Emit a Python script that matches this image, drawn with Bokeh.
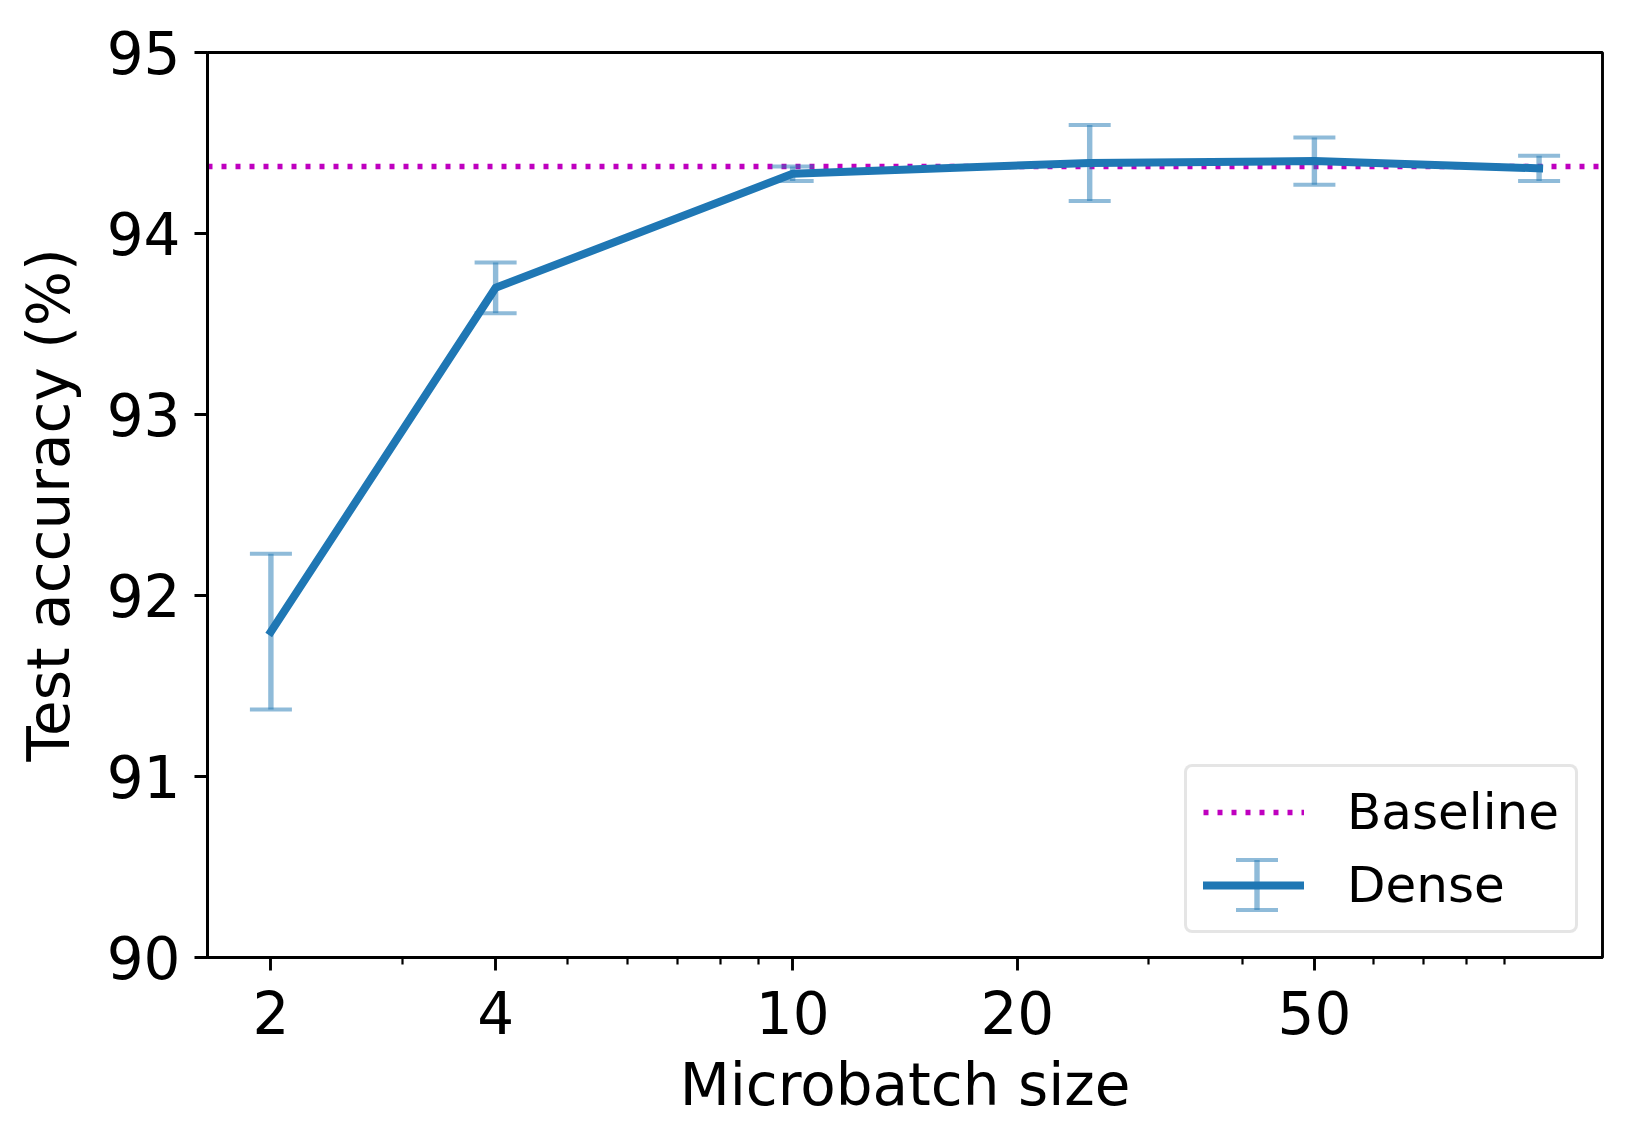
import math
from bokeh.plotting import figure
from bokeh.models import (Range1d, FixedTicker, Whisker, TeeHead, Legend,
                          LegendItem, ColumnDataSource)
from bokeh.embed import file_html
from bokeh.resources import INLINE

# ---- data ----
microbatch = [2, 4, 10, 25, 50, 100]
accuracy = [91.80, 93.70, 94.33, 94.39, 94.40, 94.36]
errors = [0.43, 0.14, 0.04, 0.21, 0.13, 0.07]
baseline = [94.37]

x_ticks = [2, 4, 10, 20, 50]
x_tick_labels = ["2", "4", "10", "20", "50"]
x_minor_ticks = [3, 5, 6, 7, 8, 9, 30, 40, 60, 70, 80, 90]
y_ticks = [90, 91, 92, 93, 94, 95]
y_tick_labels = ["90", "91", "92", "93", "94", "95"]

BLUE = "#1f77b4"
MAGENTA = "#bf00bf"
FONT = "DejaVu Sans"

# matplotlib-like 5% margins on log x axis
lo = math.log10(min(microbatch))
hi = math.log10(max(microbatch))
m = 0.05 * (hi - lo)
x_range = Range1d(10 ** (lo - m), 10 ** (hi + m))

src = ColumnDataSource(dict(
    x=microbatch,
    y=accuracy,
    upper=[a + e for a, e in zip(accuracy, errors)],
    lower=[a - e for a, e in zip(accuracy, errors)],
    zero=[0] * len(microbatch),
))

p = figure(width=1619, height=1132, x_axis_type="log",
           x_range=x_range, y_range=Range1d(90, 95),
           output_backend="svg", toolbar_location=None,
           min_border_left=207, min_border_right=17,
           min_border_top=52, min_border_bottom=175)
p.grid.visible = False
p.background_fill_color = "white"
p.border_fill_color = "white"
p.outline_line_color = "black"
p.outline_line_width = 2.9
p.outline_line_alpha = 1.0

# axes styling
for ax in (p.xaxis[0], p.yaxis[0]):
    ax.axis_line_color = "black"
    ax.axis_line_width = 2.9
    ax.major_tick_line_color = "black"
    ax.major_tick_line_width = 2.9
    ax.major_tick_out = 13
    ax.major_tick_in = 0
    ax.minor_tick_line_color = "black"
    ax.minor_tick_line_width = 2.2
    ax.minor_tick_out = 7
    ax.minor_tick_in = 0
    ax.major_label_text_font = FONT
    ax.major_label_text_font_size = "58px"
    ax.major_label_text_color = "black"
    ax.axis_label_text_font = FONT
    ax.axis_label_text_font_size = "58px"
    ax.axis_label_text_font_style = "normal"
    ax.axis_label_text_color = "black"

p.xaxis.ticker = FixedTicker(ticks=x_ticks, minor_ticks=x_minor_ticks)
p.xaxis.major_label_overrides = {t: l for t, l in zip(x_ticks, x_tick_labels)}
p.xaxis.major_label_standoff = 20
p.xaxis.axis_label = "Microbatch size"
p.xaxis.axis_label_standoff = 14

p.yaxis.ticker = FixedTicker(ticks=y_ticks, minor_ticks=[])
p.yaxis.major_label_overrides = {t: l for t, l in zip(y_ticks, y_tick_labels)}
p.yaxis.major_label_standoff = 14
p.yaxis.axis_label = "Test accuracy (%)"
p.yaxis.axis_label_standoff = 21

# error bars
whisk = Whisker(source=src, base="x", upper="upper", lower="lower",
                dimension="height", line_color=BLUE, line_alpha=0.5,
                line_width=5.4, level="underlay",
                upper_head=TeeHead(size=42, line_color=BLUE, line_alpha=0.5, line_width=4),
                lower_head=TeeHead(size=42, line_color=BLUE, line_alpha=0.5, line_width=4))
p.add_layout(whisk)

# baseline (horizontal span glyph)
base_r = p.hspan(y=baseline, line_color=MAGENTA, line_width=5.4, line_dash="5 9")
base_r.level = "underlay"

# zero-size proxies: invisible in the plot, used only for the legend's error-bar icon
bar_proxy = p.scatter("x", "y", source=src, size="zero", marker="cross",
                      line_color=BLUE, line_alpha=0.5, line_width=5.4, fill_alpha=0)
cap_proxy = p.scatter("x", "y", source=src, size="zero", marker="dash",
                      line_color=BLUE, line_alpha=0.5, line_width=4, fill_alpha=0)

# main line
line_r = p.line("x", "y", source=src, line_color=BLUE, line_width=8,
                line_join="round", line_cap="square")

legend = Legend(items=[
    LegendItem(label="Baseline", renderers=[base_r]),
    LegendItem(label="Dense", renderers=[line_r]),
], location="bottom_right", margin=24, padding=16, spacing=15,
    glyph_width=101, glyph_height=58, label_standoff=43,
    label_text_font=FONT, label_text_font_size="50px",
    label_text_color="black",
    border_line_color="#cccccc", border_line_width=3,
    background_fill_color="white", background_fill_alpha=0.8)
try:
    legend.border_radius = 8
except Exception:
    pass
p.add_layout(legend)

# error-bar icon over the "Dense" legend line (screen offsets from frame bottom-left)
ICON_CX, ICON_CY = 1049, 73
BAR_LEN, CAP_LEN = 50, 42


def icon_legend(renderer, size, cx, cy):
    g = int(round(size / 0.4))
    lg = Legend(items=[LegendItem(label=" ", renderers=[renderer])],
                location=(cx - g / 2, cy - g / 2), margin=0, padding=0, spacing=0,
                glyph_width=g, glyph_height=g, label_standoff=0,
                label_text_font_size="1px", label_width=0, label_height=0,
                border_line_alpha=0, background_fill_alpha=0)
    return lg


p.add_layout(icon_legend(bar_proxy, BAR_LEN, ICON_CX, ICON_CY))
p.add_layout(icon_legend(cap_proxy, CAP_LEN, ICON_CX, ICON_CY + BAR_LEN / 2))
p.add_layout(icon_legend(cap_proxy, CAP_LEN, ICON_CX, ICON_CY - BAR_LEN / 2))

open("out.html", "w").write(file_html(p, INLINE))
